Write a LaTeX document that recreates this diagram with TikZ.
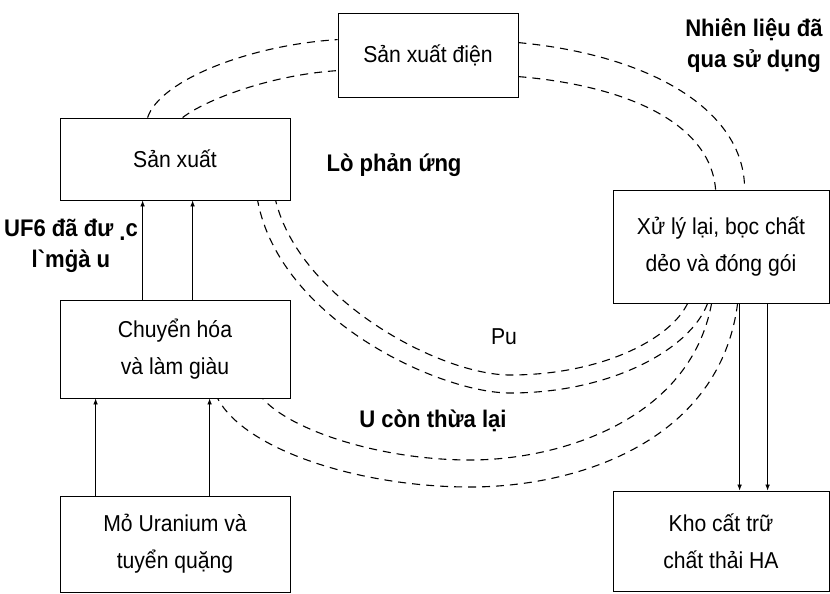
\documentclass[tikz,border=0pt]{standalone}
\usepackage{fontspec}
\setmainfont{Liberation Sans}[Ligatures=TeXOff,FakeStretch=0.92]
\usetikzlibrary{arrows.meta}

\tikzset{
  box/.style={draw,line width=0.8pt,inner sep=0pt,align=center,
    font=\fontsize{23}{37}\selectfont},
  flow/.style={line width=1.1pt,dash pattern=on 8pt off 6pt},
  feed/.style={line width=0.7pt,-{Latex[length=6pt,width=4.5pt]}},
  lbl/.style={align=center,font=\bfseries\fontsize{24}{31}\selectfont},
}

\begin{document}
\begin{tikzpicture}[x=1pt,y=-1pt]
  \useasboundingbox (0,0) rectangle (830,594);

  % Boxes
  \node[box,minimum width=180pt,minimum height=84pt] (dien) at (428,55) {Sản xuất điện};
  \node[box,minimum width=230pt,minimum height=82pt] (sx) at (175,159) {Sản xuất};
  \node[box,minimum width=230pt,minimum height=98pt] (ch) at (175,349) {Chuyển hóa\\và làm giàu};
  \node[box,minimum width=230pt,minimum height=96pt] (mo) at (175,544) {Mỏ Uranium và\\tuyển quặng};
  \node[box,minimum width=216pt,minimum height=113pt] (xl) at (721,246.5) {Xử lý lại, bọc chất\\dẻo và đóng gói};
  \node[box,minimum width=216pt,minimum height=100pt] (kho) at (721,541) {Kho cất trữ\\chất thải HA};

  % Labels
  \node[lbl] (nl) at (754,45.75) {Nhiên liệu đã\\qua sử dụng};
  \node[lbl] (lp) at (394,164.9) {Lò phản ứng};
  \node[lbl] (uf) at (71,246) {UF6 đã đư \raisebox{-3.5pt}{.}c\\l`mġà u};
  \node[lbl] (ur) at (433,421.2) {U còn thừa lại};
  \node[font=\fontsize{23}{27}\selectfont] (pu) at (504,336.75) {Pu};

  % Feed arrows
  \draw[feed] ([xshift=83pt]ch.north west) -- ([xshift=83pt]sx.south west);
  \draw[feed] ([xshift=133pt]ch.north west) -- ([xshift=133pt]sx.south west);
  \draw[feed] ([xshift=36pt]mo.north west) -- ([xshift=36pt]ch.south west);
  \draw[feed] ([xshift=150pt]mo.north west) -- ([xshift=150pt]ch.south west);
  \draw[feed] ([xshift=127pt]xl.south west) -- ([xshift=127pt]kho.north west);
  \draw[feed] ([xshift=155pt]xl.south west) -- ([xshift=155pt]kho.north west);

  % Fuel to reactor
  \draw[flow] ([xshift=88pt]sx.north west) .. controls (160,80) and (250,45) .. ([yshift=-27pt]dien.north west);
  \draw[flow] ([xshift=123pt]sx.north west) .. controls (205,100) and (270,75) .. ([yshift=-58pt]dien.north west);

  % Spent fuel
  \draw[flow] ([yshift=-30pt]dien.north east) .. controls (650,55) and (745,110) .. ([xshift=132pt]xl.north west);
  \draw[flow] ([yshift=-64pt]dien.north east) .. controls (620,85) and (710,120) .. ([xshift=103pt]xl.north west);

  % Pu back
  \draw[flow] ([xshift=75pt]xl.south west) .. controls (670,340) and (600,375) .. (510,375)
    .. controls (440,375) and (300,300) .. ([xshift=216pt]sx.south west);
  \draw[flow] ([xshift=95pt]xl.south west) .. controls (690,350) and (610,393) .. (510,393)
    .. controls (440,393) and (280,320) .. ([xshift=198pt]sx.south west);

  % U back
  \draw[flow] ([xshift=99pt]xl.south west) .. controls (690,420) and (560,460) .. (470,460)
    .. controls (380,460) and (290,430) .. ([xshift=203pt]ch.south west);
  \draw[flow] ([xshift=125pt]xl.south west) .. controls (720,440) and (580,487) .. (470,487)
    .. controls (360,487) and (245,450) .. ([xshift=158pt]ch.south west);
\end{tikzpicture}
\end{document}
